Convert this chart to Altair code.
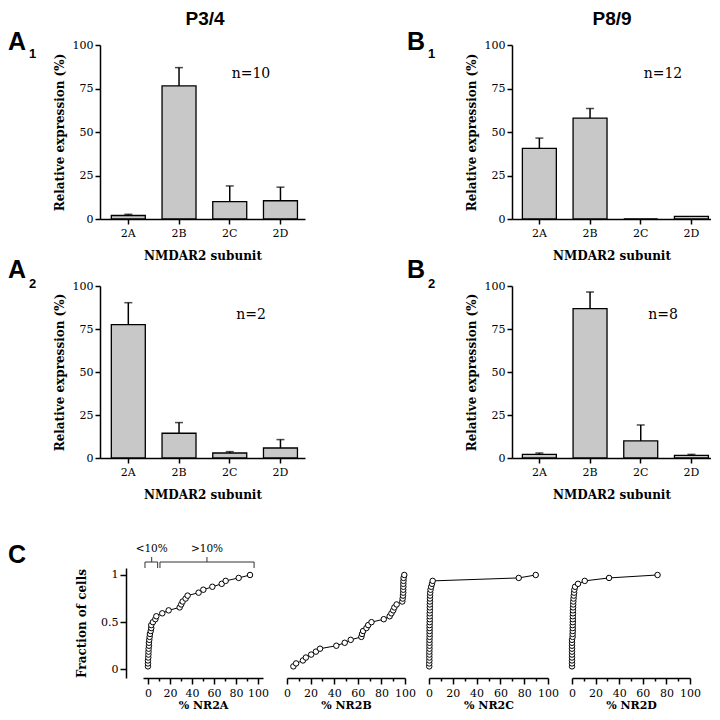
import altair as alt
import pandas as pd

# ---------------- data ----------------
subunits = ["2A", "2B", "2C", "2D"]
a1_mean = [2.0, 76.5, 10.0, 10.5]
a1_top = [2.7, 87.0, 19.0, 18.3]
b1_mean = [40.6, 58.0, 0.0, 1.5]
b1_top = [46.5, 63.5, 0.0, 1.5]
a2_mean = [77.5, 14.4, 2.9, 5.8]
a2_top = [90.3, 20.6, 3.7, 10.7]
b2_mean = [2.1, 86.8, 9.9, 1.5]
b2_top = [2.9, 96.5, 19.2, 2.1]
n_labels = ["n=10", "n=12", "n=2", "n=8"]
ages = ["P3/4", "P8/9"]

nr2a = [0, 0, 0, 0.3, 0.4, 0.5, 0.6, 0.9, 0.9, 1.2, 1.5, 1.8, 2.5, 3.0, 3.0, 4.5,
        6.7, 7.6, 13.0, 18.8, 28.8, 30.2, 31.5, 34.2, 36.0, 46.0, 50.3, 58.5, 67.0,
        70.6, 82.4, 92.7]
nr2b = [5.4, 7.7, 13.5, 16.0, 20.5, 24.5, 28.0, 41.8, 48.9, 54.0, 63.0, 63.6, 64.5,
        67.3, 68.8, 71.6, 82.0, 87.0, 88.5, 90.0, 91.0, 92.9, 97.7, 98.0, 98.3, 98.5,
        98.5, 98.6, 98.6, 98.7, 98.8, 99.4]
nr2c = [0.2, 0.2, 0.3, 0.3, 0.3, 0.3, 0.4, 0.4, 0.4, 0.4, 0.5, 0.5, 0.5, 0.5, 0.5,
        0.6, 0.6, 0.6, 0.6, 0.7, 0.7, 0.7, 0.8, 0.8, 0.9, 1.0, 1.3, 1.8, 2.5, 3.1,
        75.4, 89.7]
nr2d = [0, 0, 0, 0, 0, 0, 0, 0, 0, 0, 0.5, 0.5, 0.6, 0.6, 0.6, 0.7, 0.7, 0.7, 0.8,
        0.8, 0.9, 1.0, 1.1, 1.3, 1.5, 1.8, 2.0, 2.6, 5.1, 10.8, 31.4, 72.5]

bracket_labels = ["<10%", ">10%"]
bracket_lo = [-2.7, 10.9]
bracket_hi = [8.8, 96.4]
bracket_mid = [3.4, 53.6]

SERIF = "DejaVu Serif"
SANS = "Liberation Sans"
YT = "Relative expression (%)"
XT = "NMDAR2 subunit"
C_TOP = 43  # room above the cumulative plots for the bracket

# grid column widths (layout only); panels draw over them via explicit ranges
COLS = [43, 144, 142, 83, 60, 118]


def label(text, x, y, size, font, weight="normal", align="left", baseline="alphabetic"):
    return alt.Chart(pd.DataFrame({"t": [text]})).mark_text(
        font=font, fontSize=size, fontWeight=weight, align=align,
        baseline=baseline, color="black"
    ).encode(text="t:N", x=alt.value(x), y=alt.value(y))


def spacer(w, h):
    return alt.Chart(pd.DataFrame({"v": [0]})).mark_point(opacity=0).encode(
        x=alt.X("v:Q", axis=None), y=alt.Y("v:Q", axis=None)
    ).properties(width=w, height=h)


def bar_panel(mean, top, nlab, cell_w, plot_w, height, pad_outer, align,
              letter, sub, lx, sx, ly, sy, header=None, hx=0):
    df = pd.DataFrame({"subunit": subunits, "mean": mean, "top": top})
    xscale = alt.Scale(domain=subunits, paddingInner=0.33, paddingOuter=pad_outer,
                       align=align, range=[0, plot_w])
    yscale = alt.Scale(domain=[0, 100], nice=False)
    xaxis = alt.Axis(labelAngle=0, tickSize=5, labelPadding=3, titlePadding=12,
                     labelFontSize=11, titleFontSize=12, titleFontWeight="bold")
    yaxis = alt.Axis(values=[0, 25, 50, 75, 100], tickSize=5, labelPadding=2,
                     titlePadding=6, labelFontSize=11, titleFontSize=12,
                     titleFontWeight="bold")
    x = alt.X("subunit:N", scale=xscale, axis=xaxis, title=XT)
    y = alt.Y("mean:Q", scale=yscale, axis=yaxis, title=YT)
    bars = alt.Chart(df).mark_bar(fill="#c8c8c8", stroke="black",
                                  strokeWidth=1.3).encode(x=x, y=y)
    edf = df[df["top"] > df["mean"]]
    xe = alt.X("subunit:N", scale=xscale, axis=xaxis, title=XT)
    err = alt.Chart(edf).mark_rule(color="black", strokeWidth=1.5).encode(
        x=xe, y=alt.Y("mean:Q", scale=yscale, axis=yaxis, title=YT), y2="top:Q")
    cap = alt.Chart(edf).mark_tick(color="black", thickness=1.5, size=8).encode(
        x=xe, y=alt.Y("top:Q", scale=yscale, axis=yaxis, title=YT))
    layers = [bars, err, cap,
              label(nlab, 151, 29, 14, SERIF, align="center", baseline="middle"),
              label(letter, lx, ly, 25, SANS, weight="bold"),
              label(sub, sx, sy, 13, SANS, weight="bold")]
    if header is not None:
        layers.append(label(header, hx, -20, 19, SANS, weight="bold", align="center"))
        # invisible anchor keeping the top edge of the figure in place
        layers.append(alt.Chart(pd.DataFrame({"v": [0]})).mark_rule(
            strokeOpacity=0, strokeWidth=0.5).encode(
            x=alt.value(0), x2=alt.value(2), y=alt.value(-37)))
    return alt.layer(*layers).properties(width=cell_w, height=height)


def cum_panel(values, title, cell_w, plot_w, domain, show_y=False, bracket=False):
    df = pd.DataFrame({"v": values})
    base = alt.Chart(df).transform_window(
        row="row_number()", sort=[alt.SortField("v", order="ascending")]
    ).transform_joinaggregate(n="count()").transform_calculate(f="datum.row / datum.n")
    h = 110 + C_TOP
    xscale = alt.Scale(domain=domain, nice=False, zero=False, range=[0, plot_w])
    yscale = alt.Scale(domain=[-0.092, 1.074], nice=False, zero=False, range=[h, C_TOP])
    xaxis = alt.Axis(values=list(range(0, 101, 10)),
                     labelExpr="datum.value % 20 === 0 ? datum.label : ''",
                     labelOverlap=False, labelFlush=False,
                     tickSize={"condition": {"test": "datum.value % 20 === 0", "value": 6},
                               "value": 3},
                     labelPadding=3, titlePadding=1, labelFontSize=11,
                     titleFontSize=11, titleFontWeight="bold")
    if show_y:
        yaxis = alt.Axis(values=[0, 0.5, 1], format="~g", offset=17, tickSize=6,
                         labelPadding=2, titlePadding=12, labelFontSize=11,
                         titleFontSize=12, titleFontWeight="bold",
                         labelOverlap=False, labelFlush=False)
    else:
        yaxis = None

    def X(field):
        return alt.X(field, scale=xscale, axis=xaxis, title=title)

    y = alt.Y("f:Q", scale=yscale, axis=yaxis, title="Fraction of cells")
    line = base.mark_line(color="black", strokeWidth=1).encode(
        x=X("v:Q"), y=y, order="row:Q")
    pts = base.mark_point(shape="circle", filled=True, fill="white", stroke="black",
                          strokeWidth=1, size=30, opacity=1).encode(x=X("v:Q"), y=y)
    layers = [line, pts]
    if bracket:
        bdf = pd.DataFrame({"lo": bracket_lo, "hi": bracket_hi,
                            "mid": bracket_mid, "lab": bracket_labels})
        bc = alt.Chart(bdf)
        rc = dict(color="#333333", strokeWidth=1)
        yb = C_TOP - 6
        layers += [
            bc.mark_rule(**rc).encode(x=X("lo:Q"), x2="hi:Q", y=alt.value(yb)),
            bc.mark_rule(**rc).encode(x=X("lo:Q"), y=alt.value(yb), y2=alt.value(C_TOP)),
            bc.mark_rule(**rc).encode(x=X("hi:Q"), y=alt.value(yb), y2=alt.value(C_TOP)),
            bc.mark_rule(**rc).encode(x=X("mid:Q"), y=alt.value(yb - 5), y2=alt.value(yb)),
            bc.mark_text(font=SERIF, fontSize=10.5, baseline="middle",
                         color="black").encode(
                x=X("mid:Q"), y=alt.value(C_TOP - 19), text="lab:N"),
            label("C", -135, C_TOP - 5, 25, SANS, weight="bold"),
        ]
    return alt.layer(*layers).properties(width=cell_w, height=h)


A1 = bar_panel(a1_mean, a1_top, n_labels[0], COLS[0], 205, 174, 0.186, 0.6,
               "A", "1", -92, -71, 5, 13, header=ages[0], hx=105)
B1 = bar_panel(b1_mean, b1_top, n_labels[1], COLS[4], 199, 174, 0.128, 0.8,
               "B", "1", -105, -84, 5, 13, header=ages[1], hx=100)
A2 = bar_panel(a2_mean, a2_top, n_labels[2], COLS[0], 205, 172, 0.186, 0.6,
               "A", "2", -92, -71, -8, 2)
B2 = bar_panel(b2_mean, b2_top, n_labels[3], COLS[4], 199, 172, 0.128, 0.8,
               "B", "2", -105, -84, -8, 2)

C1 = cum_panel(nr2a, "% NR2A", COLS[1], 120, [-4.5, 104.5], show_y=True, bracket=True)
C2 = cum_panel(nr2b, "% NR2B", COLS[2], 118, [0, 100])
C3 = cum_panel(nr2c, "% NR2C", COLS[3], 119, [0, 100])
C4 = cum_panel(nr2d, "% NR2D", COLS[5], 118, [0, 100])

HC = 110 + C_TOP
cells = [
    A1, spacer(COLS[1], 174), spacer(COLS[2], 174), spacer(COLS[3], 174), B1, spacer(COLS[5], 174),
    A2, spacer(COLS[1], 172), spacer(COLS[2], 172), spacer(COLS[3], 172), B2, spacer(COLS[5], 172),
    spacer(COLS[0], HC), C1, C2, C3, spacer(COLS[4], HC), C4,
]

chart = alt.concat(
    *cells, columns=6, spacing={"row": 67, "column": 0},
    bounds="flush", align="each"
).properties(padding=0).configure_view(stroke=None).configure_axis(
    domainColor="black", tickColor="black", labelColor="black", titleColor="black",
    grid=False, labelFont=SERIF, titleFont=SERIF, domainWidth=1.5, tickWidth=1.5
)

chart.save("out.html", embed_options={"renderer": "svg", "actions": False})
